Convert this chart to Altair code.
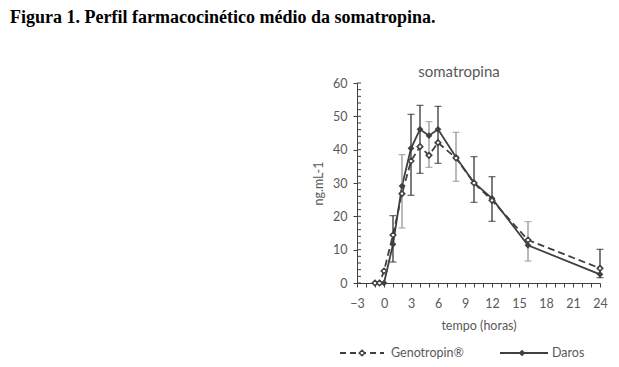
import altair as alt
import pandas as pd

# ---- data ----
times = [-1, -0.5, 0, 1, 2, 3, 4, 5, 6, 8, 10, 12, 16, 24]
genotropin = [0, 0, 3.6, 14.4, 26.8, 36.6, 40.9, 38.3, 42.1, 37.5, 30.0, 24.8, 12.9, 4.4]
daros = [0, 0, 0, 11.6, 29.1, 40.4, 46.1, 44.2, 46.1, 37.7, 30.1, 25.4, 11.3, 2.6]

err_times = [1, 2, 3, 4, 5, 6, 8, 10, 12, 16, 24]
err_low = [6.3, 16.5, 26.3, 32.9, 34.7, 35.9, 30.5, 24.2, 18.5, 6.6, 1.6]
err_high = [20.2, 38.5, 50.6, 53.3, 48.4, 53.0, 45.2, 37.9, 31.9, 18.4, 10.1]
err_series = ["Daros", "Genotropin", "Daros", "Daros", "Genotropin", "Daros",
              "Genotropin", "Daros", "Daros", "Genotropin", "Daros"]

x_ticks = list(range(-3, 25))
y_major = [0, 10, 20, 30, 40, 50, 60]
y_minor = list(range(0, 61, 2))

heading = "Figura 1. Perfil farmacocinético médio da somatropina."
chart_title = "somatropina"
x_title = "tempo (horas)"
y_title = "ng.mL-1"
legend_labels = ["Genotropin®", "Daros"]

FONT = "Lato"
GREY = "#595959"
LINE = "#404040"

geno_df = pd.DataFrame({"t": times, "v": genotropin})
daros_df = pd.DataFrame({"t": times, "v": daros})
err_df = pd.DataFrame({"t": err_times, "lo": err_low, "hi": err_high, "s": err_series})
ymin_df = pd.DataFrame({"y": y_minor})

xscale = alt.Scale(domain=[-3, 24], nice=False, zero=False)
yscale = alt.Scale(domain=[0, 60], nice=False)

xaxis = alt.Axis(
    values=x_ticks, title=x_title, grid=False, labelOverlap=False, labelFlush=False,
    labelExpr="datum.value % 3 == 0 ? datum.label : ''",
    tickSize=4, labelPadding=10, titlePadding=10)
yaxis = alt.Axis(
    values=y_major, title=y_title, grid=False, labelOverlap=False, labelFlush=False,
    tickSize=4, labelPadding=6, titlePadding=7)


def X(f):
    return alt.X(f, scale=xscale, axis=xaxis)


def Y(f):
    return alt.Y(f, scale=yscale, axis=yaxis)


base_g = alt.Chart(geno_df)
base_d = alt.Chart(daros_df)

geno_line = base_g.mark_line(color=LINE, strokeWidth=1.8, strokeDash=[7, 4]).encode(x=X("t:Q"), y=Y("v:Q"))
daros_line = base_d.mark_line(color=LINE, strokeWidth=1.8).encode(x=X("t:Q"), y=Y("v:Q"))

err_color = alt.Color("s:N", scale=alt.Scale(domain=["Daros", "Genotropin"],
                                             range=["#262626", "#8c8c8c"]), legend=None)
err_rule = alt.Chart(err_df).mark_rule(strokeWidth=1.2).encode(
    x=X("t:Q"), y=Y("lo:Q"), y2="hi:Q", color=err_color)
err_cap_lo = alt.Chart(err_df).mark_tick(orient="horizontal", size=7, thickness=1.2).encode(
    x=X("t:Q"), y=Y("lo:Q"), color=err_color)
err_cap_hi = alt.Chart(err_df).mark_tick(orient="horizontal", size=7, thickness=1.2).encode(
    x=X("t:Q"), y=Y("hi:Q"), color=err_color)

daros_pts = base_d.mark_point(shape="diamond", filled=True, color=LINE, size=45, opacity=1).encode(
    x=X("t:Q"), y=Y("v:Q"))
geno_pts = base_g.mark_point(shape="diamond", filled=True, fill="white", stroke=LINE,
                             strokeWidth=1.6, size=30, opacity=1).encode(
    x=X("t:Q"), y=Y("v:Q"))

y_minor_ticks = alt.Chart(ymin_df).mark_rule(color=LINE, strokeWidth=1).encode(
    y=Y("y:Q"), x=alt.value(0), x2=alt.value(4))

# decorations (titles and legend)
head = alt.Chart(pd.DataFrame({"s": [heading]})).mark_text(
    font="Liberation Serif", fontSize=18, fontWeight="bold", color="black",
    align="left", baseline="middle").encode(text="s:N", x=alt.value(-347), y=alt.value(-65))
ttl = alt.Chart(pd.DataFrame({"s": [chart_title]})).mark_text(
    font=FONT, fontSize=15, color=GREY, align="center", baseline="middle").encode(
    text="s:N", x=alt.value(102), y=alt.value(-11))

LY = 270
leg_g_line = alt.Chart(pd.DataFrame({"a": [0]})).mark_rule(
    color=LINE, strokeWidth=1.8, strokeDash=[6, 4]).encode(
    x=alt.value(-17), x2=alt.value(27), y=alt.value(LY))
leg_g_pt = alt.Chart(pd.DataFrame({"a": [0]})).mark_point(
    shape="diamond", filled=True, fill="white", stroke=LINE, strokeWidth=1.6, size=30, opacity=1).encode(
    x=alt.value(5), y=alt.value(LY))
leg_g_txt = alt.Chart(pd.DataFrame({"s": [legend_labels[0]]})).mark_text(
    font=FONT, fontSize=12.5, color=GREY, align="left", baseline="middle").encode(
    text="s:N", x=alt.value(34), y=alt.value(LY))
leg_d_line = alt.Chart(pd.DataFrame({"a": [0]})).mark_rule(
    color=LINE, strokeWidth=1.8).encode(x=alt.value(143), x2=alt.value(191), y=alt.value(LY))
leg_d_pt = alt.Chart(pd.DataFrame({"a": [0]})).mark_point(
    shape="diamond", filled=True, color=LINE, size=45, opacity=1).encode(
    x=alt.value(165), y=alt.value(LY))
leg_d_txt = alt.Chart(pd.DataFrame({"s": [legend_labels[1]]})).mark_text(
    font=FONT, fontSize=12.5, color=GREY, align="left", baseline="middle").encode(
    text="s:N", x=alt.value(195), y=alt.value(LY))

chart = alt.layer(
    geno_line, daros_line, err_rule, err_cap_lo, err_cap_hi, daros_pts, geno_pts,
    y_minor_ticks, head, ttl,
    leg_g_line, leg_g_pt, leg_g_txt, leg_d_line, leg_d_pt, leg_d_txt,
).properties(
    width=243, height=200,
    padding={"left": 2, "top": 1, "right": 0, "bottom": 0},
    background="white",
).configure_view(strokeWidth=0).configure_axis(
    labelFont=FONT, titleFont=FONT, labelFontSize=12.5, titleFontSize=12.5,
    labelColor=GREY, titleColor=GREY, titleFontWeight="normal",
    domainColor=LINE, tickColor=LINE, domainWidth=1, tickWidth=1,
)

chart.save("out.html", embed_options={"renderer": "svg", "actions": False})
